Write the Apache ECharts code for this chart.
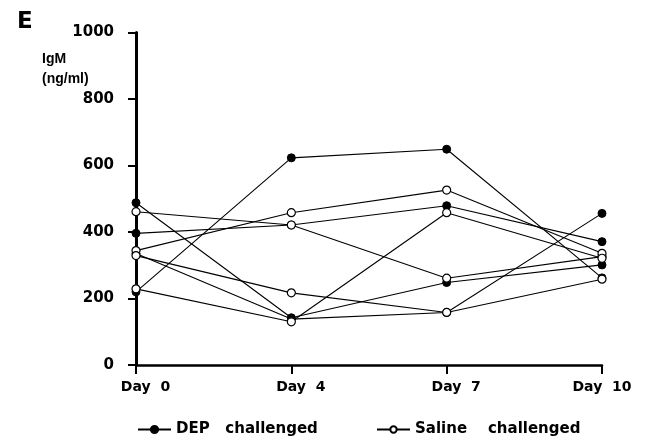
<!DOCTYPE html>
<html>
<head>
<meta charset="utf-8">
<script src="https://cdn.jsdelivr.net/npm/echarts@6/dist/echarts.min.js"></script>
<style>html,body{margin:0;padding:0;background:#fff;}#c{width:648px;height:441px;}</style>
</head>
<body>
<div id="c"></div>
<script>
// Categories (x axis)
const categories = ['Day  0', 'Day  4', 'Day  7', 'Day  10'];
// IgM (ng/ml), DEP challenged animals
const dep1 = [220, 623, 649, 262];
const dep2 = [396, 421, 479, 371];
const dep3 = [488, 142, 248, 301];
const dep4 = [335, 138, 158, 456];
// IgM (ng/ml), Saline challenged animals
const sal1 = [461, 421, 261, 326];
const sal2 = [344, 458, 526, 336];
const sal3 = [229, 130, 458, 321];
const sal4 = [329, 217, 158, 258];
// y-axis scale
const yMin = 0, yMax = 1000, yStep = 200;

const depName = 'DEP   challenged';
const salName = 'Saline    challenged';

function depSeries(d) {
  return {
    type: 'line', name: depName, data: d, symbol: 'circle', symbolSize: 8,
    lineStyle: { color: '#000', width: 1.1 },
    itemStyle: { color: '#000', borderColor: '#000', borderWidth: 1 },
    emphasis: { disabled: true }, animation: false
  };
}
function salSeries(d) {
  return {
    type: 'line', name: salName, data: d, symbol: 'circle', symbolSize: 8,
    lineStyle: { color: '#000', width: 1.1 },
    itemStyle: { color: '#fff', borderColor: '#000', borderWidth: 1.2 },
    emphasis: { disabled: true }, animation: false
  };
}

const chart = echarts.init(document.getElementById('c'), null, { renderer: 'canvas' });
const labelFont = { fontFamily: 'DejaVu Sans', fontWeight: 'bold', color: '#000' };
chart.setOption({
  animation: false,
  backgroundColor: '#fff',
  grid: { left: 136, right: 46, top: 32.5, bottom: 76, containLabel: false, outerBoundsMode: 'none' },
  xAxis: {
    type: 'category', data: categories, boundaryGap: false,
    axisLine: { lineStyle: { color: '#000', width: 2.5 } },
    axisTick: { show: true, inside: false, length: 9, interval: 0, lineStyle: { color: '#000', width: 2 } },
    axisLabel: {
      interval: 0, margin: 15,
      formatter: function (v, i) { return i < 3 ? '{a|' + v + '}' : '{b|' + v + '}'; },
      rich: {
        a: Object.assign({ fontSize: 14, padding: [0, 0, 0, 19] }, labelFont),
        b: Object.assign({ fontSize: 14 }, labelFont)
      }
    },
    splitLine: { show: false }
  },
  yAxis: {
    type: 'value', min: yMin, max: yMax, interval: yStep,
    axisLine: { show: true, lineStyle: { color: '#000', width: 3 } },
    axisTick: { show: true, inside: false, length: 8, lineStyle: { color: '#000', width: 2 } },
    axisLabel: Object.assign({ fontSize: 15, margin: 22, formatter: function (v) { return String(v); } }, labelFont),
    splitLine: { show: false }
  },
  legend: [
    {
      data: [depName], left: 137, top: 422, padding: 0, itemWidth: 33, itemHeight: 9,
      selectedMode: false,
      textStyle: Object.assign({ fontSize: 15 }, labelFont)
    },
    {
      data: [salName], left: 376, top: 422, padding: 0, itemWidth: 33, itemHeight: 8,
      selectedMode: false,
      textStyle: Object.assign({ fontSize: 15 }, labelFont)
    }
  ],
  graphic: [
    { type: 'text', left: 17, top: 11, style: { text: 'E', font: 'bold 23px "DejaVu Sans"', fill: '#000' } },
    { type: 'text', left: 42, top: 52, style: { text: 'IgM', font: 'bold 14px "Liberation Sans"', fill: '#000' } },
    { type: 'text', left: 42, top: 72, style: { text: '(ng/ml)', font: 'bold 14px "Liberation Sans"', fill: '#000' } }
  ],
  series: [
    depSeries(dep1), depSeries(dep2), depSeries(dep3), depSeries(dep4),
    salSeries(sal1), salSeries(sal2), salSeries(sal3), salSeries(sal4)
  ]
});
</script>
</body>
</html>
